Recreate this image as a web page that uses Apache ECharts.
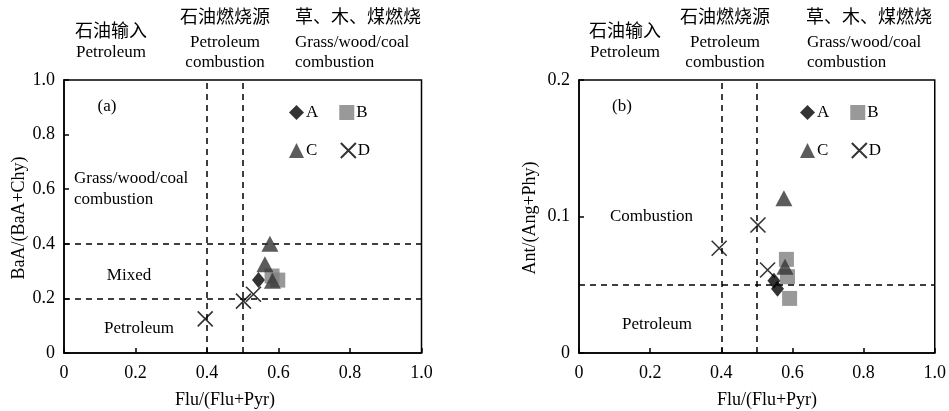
<!DOCTYPE html>
<html><head><meta charset="utf-8">
<script src="https://cdn.jsdelivr.net/npm/echarts@6/dist/echarts.min.js"></script>
<style>html,body{margin:0;padding:0;background:#fff}#c{width:949px;height:411px}</style>
</head><body><div id="c"></div>
<script>
// ---- data ----
const seriesNames = ['A','B','C','D'];
const xTickLabels = ['0','0.2','0.4','0.6','0.8','1.0'];
const yTickLabelsA = ['0','0.2','0.4','0.6','0.8','1.0'];
const yTickLabelsB = ['0','0.1','0.2'];
// panel (a): BaA/(BaA+Chy) vs Flu/(Flu+Pyr)
const aA = [[0.544,0.267]];
const aB = [[0.582,0.282],[0.598,0.267]];
const aC = [[0.576,0.400],[0.562,0.325],[0.583,0.265]];
const aD = [[0.395,0.125],[0.502,0.190],[0.530,0.215]];
// panel (b): Ant/(Ant+Phe) vs Flu/(Flu+Pyr)
const bA = [[0.548,0.053],[0.558,0.047]];
const bB = [[0.583,0.0686],[0.586,0.0559],[0.592,0.040]];
const bC = [[0.576,0.1133],[0.579,0.0632]];
const bD = [[0.394,0.0767],[0.503,0.0938],[0.530,0.0608]];
// threshold lines
const aVert = [0.4,0.5], aHorz = [0.2,0.4];
const bVert = [0.4,0.5], bHorz = [0.046];

const SERIF = '"Liberation Serif","Times New Roman","Noto Sans CJK SC",serif';
const crossPath = 'path://M0,0L10,10M10,0L0,10';
const styles = {
  A:{symbol:'diamond',symbolSize:[13,16],itemStyle:{color:'#000'}},
  B:{symbol:'rect',symbolSize:15,itemStyle:{color:'#808080'}},
  C:{symbol:'triangle',symbolSize:[17,16],itemStyle:{color:'#333'}},
  D:{symbol:crossPath,symbolSize:15,itemStyle:{color:'none',borderColor:'#000',borderWidth:1.6}}
};
function fmt(labels){return function(v){ for(const l of labels){ if(Math.abs(parseFloat(l)-v)<1e-9) return l;} return '';};}

function axisCommon(){return {
  axisLine:{show:true,onZero:false,lineStyle:{color:'#000',width:1.5}},
  axisTick:{show:true,inside:true,length:5,lineStyle:{color:'#000',width:1.5}},
  splitLine:{show:false},
  axisLabel:{color:'#000',fontFamily:SERIF,fontSize:18}
};}

const panels = [
  {data:[aA,aB,aC,aD],vert:aVert,horz:aHorz,ymax:1,yint:0.2,ylab:yTickLabelsA},
  {data:[bA,bB,bC,bD],vert:bVert,horz:bHorz,ymax:0.2,yint:0.1,ylab:yTickLabelsB}
];

const grid = [
  {left:64,top:80,width:357.5,height:273,show:true,borderColor:'#000',borderWidth:1.5},
  {left:579,top:80,width:358,height:273,show:true,borderColor:'#000',borderWidth:1.5}
];
const xAxis = [], yAxis = [], series = [];
panels.forEach((p,i)=>{
  const xa = axisCommon(); Object.assign(xa,{type:'value',gridIndex:i,min:0,max:1,interval:0.2});
  xa.axisLabel = Object.assign(xa.axisLabel,{margin:11,formatter:fmt(xTickLabels)});
  xAxis.push(xa);
  const ya = axisCommon(); Object.assign(ya,{type:'value',gridIndex:i,min:0,max:p.ymax,interval:p.yint});
  ya.axisLabel = Object.assign(ya.axisLabel,{margin:9,formatter:fmt(p.ylab)});
  yAxis.push(ya);
  // threshold lines
  series.push({
    type:'scatter',xAxisIndex:i,yAxisIndex:i,data:[],silent:true,
    markLine:{silent:true,symbol:'none',label:{show:false},animation:false,
      lineStyle:{color:'#000',type:[6,5],width:1.5},
      data:[...p.vert.map(v=>({xAxis:v})),...p.horz.map(v=>({yAxis:v}))]}
  });
  seriesNames.forEach((n,k)=>{
    series.push(Object.assign({type:'scatter',name:n,xAxisIndex:i,yAxisIndex:i,data:p.data[k],z:3+k},JSON.parse(JSON.stringify(styles[n]))));
  });
});

function legend(left){return {
  left:left,top:99,width:105,itemGap:21,itemWidth:15,itemHeight:15,
  data:seriesNames, selectedMode:false,
  textStyle:{fontFamily:SERIF,fontSize:17,color:'#000',padding:[0,0,0,-3]}
};}

function txt(x,y,t,align,size){return {type:'text',x:x,y:y,style:{text:t,fill:'#000',font:(size||17)+'px '+SERIF,textAlign:align||'left',textVerticalAlign:'middle'}};}
function rtxt(x,y,t){return {type:'text',x:x,y:y,rotation:Math.PI/2,style:{text:t,fill:'#000',font:'18px '+SERIF,textAlign:'center',textVerticalAlign:'middle'}};}

const graphic = [
  // panel a headers
  txt(111,32,'石油输入','center',18), txt(111,53,'Petroleum','center'),
  txt(225,18,'石油燃烧源','center',18), txt(225,43,'Petroleum','center'), txt(225,63,'combustion','center'),
  txt(295,18,'草、木、煤燃烧','left',18), txt(295,43,'Grass/wood/coal'), txt(295,63,'combustion'),
  // panel a inside
  txt(107,107,'(a)','center'),
  txt(74,179,'Grass/wood/coal'), txt(74,200,'combustion'),
  txt(129,276,'Mixed','center'), txt(139,329,'Petroleum','center'),
  txt(225,400,'Flu/(Flu+Pyr)','center',18), rtxt(19,218,'BaA/(BaA+Chy)'),
  // panel b headers
  txt(625,32,'石油输入','center',18), txt(625,53,'Petroleum','center'),
  txt(725,18,'石油燃烧源','center',18), txt(725,43,'Petroleum','center'), txt(725,63,'combustion','center'),
  txt(806,18,'草、木、煤燃烧','left',18), txt(807,43,'Grass/wood/coal'), txt(807,63,'combustion'),
  // panel b inside
  txt(622,107,'(b)','center'),
  txt(610,217,'Combustion'), txt(622,325,'Petroleum'),
  txt(767,400,'Flu/(Flu+Pyr)','center',18), rtxt(530,218,'Ant/(Ang+Phy)')
];

const chart = echarts.init(document.getElementById('c'));
chart.setOption({
  animation:false,
  backgroundColor:'#fff',
  grid:grid, xAxis:xAxis, yAxis:yAxis, series:series,
  legend:[legend(284), legend(795)],
  graphic:graphic
});
</script></body></html>
